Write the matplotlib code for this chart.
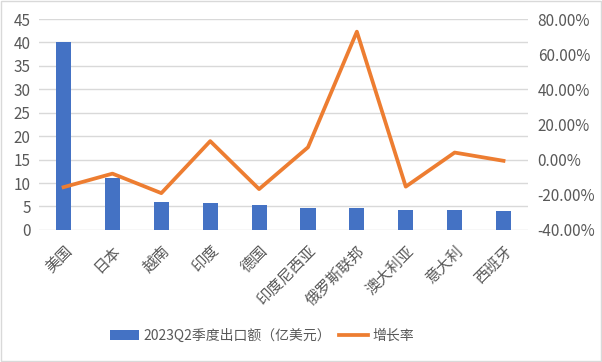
import matplotlib.pyplot as plt
from matplotlib.patches import Rectangle

plt.rcParams['font.family'] = ['Noto Sans CJK SC', 'DejaVu Sans']

countries = ["美国", "日本", "越南", "印度", "德国", "印度尼西亚", "俄罗斯联邦", "澳大利亚", "意大利", "西班牙"]
export_value = [40.0, 11.15, 6.0, 5.8, 5.3, 4.75, 4.7, 4.25, 4.25, 4.05]
growth_rate = [-15.7, -8.0, -19.1, 10.5, -16.8, 7.0, 72.8, -15.4, 4.0, -0.7]

grey = "#595959"
fig = plt.figure(figsize=(6.02, 3.62), dpi=100)
fig.patches.append(Rectangle((0.002, 0.003), 0.996, 0.994, transform=fig.transFigure,
                             fill=False, edgecolor="#d9d9d9", linewidth=1))

ax = fig.add_axes([0.065, 0.365, 0.812, 0.5825])
x = range(len(countries))
bars = ax.bar(x, export_value, width=0.31, color="#4472C4", zorder=2)
ax.set_ylim(0, 45)
ax.set_yticks(range(0, 50, 5))
ax.set_xlim(-0.5, len(countries) - 0.5)
ax.grid(axis="y", color="#d9d9d9", linewidth=1, zorder=0)
ax.set_axisbelow(True)
for s in ax.spines.values():
    s.set_visible(False)
ax.tick_params(axis="both", length=0, colors=grey, labelsize=11)
ax.tick_params(axis="y", pad=6)
ax.set_xticks(list(x))
ax.set_xticklabels(countries, rotation=45, ha="right", rotation_mode="anchor")
ax.tick_params(axis="x", pad=9)

ax2 = ax.twinx()
line, = ax2.plot(list(x), growth_rate, color="#ED7D31", linewidth=2.7, zorder=3)
ax2.set_ylim(-40, 80)
ax2.set_yticks(range(-40, 100, 20))
ax2.set_yticklabels([f"{v:.2f}%" for v in range(-40, 100, 20)])
for s in ax2.spines.values():
    s.set_visible(False)
ax2.tick_params(axis="y", length=0, colors=grey, labelsize=11, pad=7)

fig.legend([bars, line], ["2023Q2季度出口额（亿美元）", "增长率"], loc="center",
           bbox_to_anchor=(0.435, 0.072), ncol=2, frameon=False, fontsize=10,
           labelcolor=grey, handlelength=2.1, columnspacing=0.6, handletextpad=0.3)

plt.savefig("out.png", dpi=100)
